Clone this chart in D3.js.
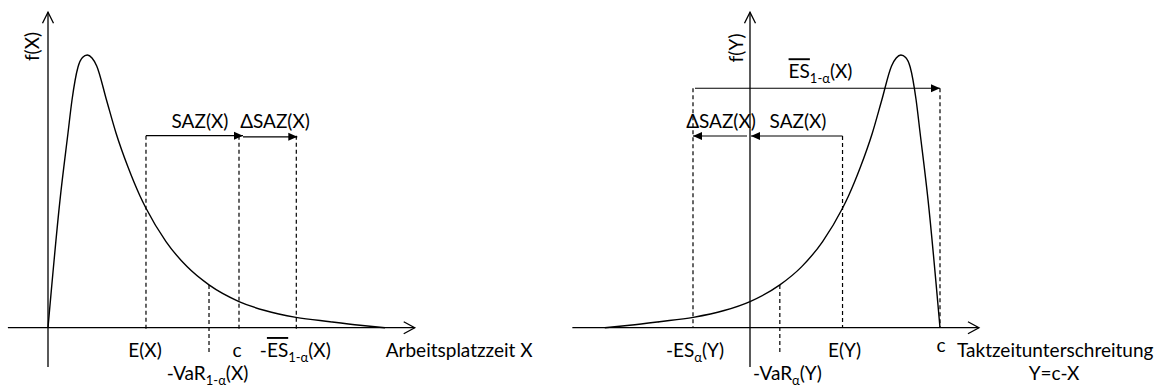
<!DOCTYPE html>
<html><head><meta charset="utf-8">
<script src="https://cdn.jsdelivr.net/npm/d3@7"></script>
<style>
html,body{margin:0;padding:0;background:#fff;}
text{font-family:Lato,"Open Sans",sans-serif;fill:#000;font-size:19px;}
</style></head><body>
<svg id="chart" width="1160" height="387"></svg>
<script>
// Density f(X) of the workplace time X (arbitrary units)
const densityX = [0, 0.628, 1.047, 1.257, 1.571, 1.806, 2.058, 2.304, 2.550, 3.063, 3.560, 4.188, 4.817, 5.131, 6.178, 7.277, 8.429, 10.0, 11.361, 12.984, 14.764, 16.335, 17.644];
const densityF = [0, 0.468, 0.714, 0.835, 0.956, 0.991, 1.0, 0.989, 0.960, 0.835, 0.714, 0.589, 0.483, 0.438, 0.316, 0.224, 0.157, 0.096, 0.063, 0.038, 0.022, 0.009, 0];
// Key values on the X scale
const markerNames = ["E", "VaR", "c", "ES"];
const markerValuesX = [5.13, 8.43, 10.0, 13.0];
const taktC = 10.0;            // c, Y = c - X
// Heights (in f units) of the annotation arrows
const arrowLevelsLeft = [0.704, 0.700];   // SAZ, ΔSAZ
const arrowLevelsRight = [0.878, 0.703];  // ES̄, SAZ/ΔSAZ
// Texts
const axisTitles = ["Arbeitsplatzzeit X", "Taktzeitunterschreitung", "Y=c-X"];
const yTitles = ["f(X)", "f(Y)"];

const M = {}; markerNames.forEach((n,i)=>M[n]=markerValuesX[i]);
const data = densityX.map((x,i)=>({x, f: densityF[i]}));
const fAt = x => { const i = d3.bisector(d=>d.x).left(data, x);
  if (i<=0) return data[0].f; if (i>=data.length) return 0;
  const a=data[i-1], b=data[i]; return a.f + (b.f-a.f)*(x-a.x)/(b.x-a.x); };

const svg = d3.select("#chart");
const defs = svg.append("defs");
defs.append("marker").attr("id","head").attr("viewBox","0 0 10 10")
  .attr("refX",10).attr("refY",5).attr("markerWidth",10).attr("markerHeight",9)
  .attr("markerUnits","userSpaceOnUse").attr("orient","auto")
  .append("path").attr("d","M0,0.5L10,5L0,9.5Z").attr("fill","#000");

const xL = d3.scaleLinear().domain([0, 10]).range([48, 239]);
const xR = d3.scaleLinear().domain([-3, 10]).range([693, 940]);
const yS = d3.scaleLinear().domain([0, 1]).range([327.7, 55]);

const g = svg.append("g").attr("fill","none").attr("stroke","#000");

function axisX(sc, a, b) {
  const y = yS(0), x0 = sc(a), x1 = sc(b);
  g.append("line").attr("x1",x0).attr("x2",x1).attr("y1",y).attr("y2",y).attr("stroke-width",1.3);
  g.append("path").attr("d",`M${x1-11},${y-6}L${x1},${y}L${x1-11},${y+6}`).attr("stroke-width",1.3);
}
function axisY(x, fa, fb) {
  const y0 = yS(fa), y1 = yS(fb);
  g.append("line").attr("x1",x).attr("x2",x).attr("y1",y0).attr("y2",y1).attr("stroke-width",1.3);
  g.append("path").attr("d",`M${x-5.5},${y1+11}L${x},${y1}L${x+5.5},${y1+11}`).attr("stroke-width",1.3);
}
function dashed(x, fa, fb) {
  g.append("line").attr("x1",x).attr("x2",x).attr("y1",yS(fa)).attr("y2",yS(fb))
    .attr("stroke-width",1.2).attr("stroke-dasharray","4,3");
}
function arrow(xa, xb, f) {
  g.append("line").attr("x1",xa).attr("x2",xb).attr("y1",yS(f)).attr("y2",yS(f))
    .attr("stroke-width",1.2).attr("marker-end","url(#head)");
}
function label(x, y, parts, anchor) {
  const t = svg.append("text").attr("x",x).attr("y",y).attr("text-anchor",anchor||"middle");
  let shift = 0;
  parts.forEach(p => {
    const s = p.sub ? 5 : 0;
    const ts = t.append("tspan").text(p.t).attr("dy", s - shift);
    if (p.sub) ts.style("font-size","13px");
    if (p.over) ts.style("text-decoration","overline");
    shift = s;
  });
  return t;
}

// ---------- Left chart ----------
axisX(xL, -2.1, 19.2);
axisY(xL(0), -0.144, 1.157);
g.append("path").datum(data).attr("stroke-width",1.4)
  .attr("d", d3.line().x(d=>xL(d.x)).y(d=>yS(d.f)).curve(d3.curveMonotoneX));
["E","c","ES"].forEach(n => dashed(xL(M[n]), arrowLevelsLeft[0], -0.015));
dashed(xL(M.VaR), fAt(M.VaR), -0.094);
arrow(xL(M.E), xL(M.c)+4, arrowLevelsLeft[0]);
arrow(xL(M.c)+4, xL(M.ES)+1, arrowLevelsLeft[1]);

const r1 = yS(0) + 29.3, r2 = yS(0) + 52.3;
label(xL(M.E)-1, r1, [{t:"E(X)"}]);
label(xL(M.c)-2, r1, [{t:"c"}]);
label(xL(M.ES)-1, r1, [{t:"-"},{t:"ES",over:true},{t:"1-α",sub:true},{t:"(X)"}]);
label(xL(M.VaR)-1.5, r2, [{t:"-VaR"},{t:"1-α",sub:true},{t:"(X)"}]);
label(xL(19.2)-29, r1, [{t:axisTitles[0]}], "start");
label(xL(M.E)+54, yS(arrowLevelsLeft[0])-8, [{t:"SAZ(X)"}]);
label(xL(M.c)+36, yS(arrowLevelsLeft[0])-8, [{t:"ΔSAZ(X)"}]);
svg.append("text").attr("transform",`translate(${xL(0)-9},46.5) rotate(-90)`)
  .attr("text-anchor","middle").text(yTitles[0]);

// ---------- Right chart (Y = c - X) ----------
const dataR = data.map(d=>({y: taktC - d.x, f: d.f})).reverse();
const Y = n => taktC - M[n];
const xc = xR(taktC);
axisX(xR, -9.35, 12.05);
axisY(xR(0), -0.144, 1.157);
g.append("path").datum(dataR).attr("stroke-width",1.4)
  .attr("d", d3.line().x(d=>xR(d.y)).y(d=>yS(d.f)).curve(d3.curveMonotoneX));
dashed(xR(Y("ES")), arrowLevelsRight[0], 0);
dashed(xc, arrowLevelsRight[0], 0);
dashed(xR(Y("E")), arrowLevelsRight[1], 0);
dashed(xR(Y("VaR")), fAt(M.VaR), -0.094);
arrow(xR(Y("ES"))+2, xc, arrowLevelsRight[0]);
arrow(xR(Y("E")), xR(0)+1, arrowLevelsRight[1]);
arrow(xR(0)-3, xR(Y("ES")), arrowLevelsRight[1]);

label(xR(Y("ES"))+2, r1, [{t:"-ES"},{t:"α",sub:true},{t:"(Y)"}]);
label(xR(Y("E"))+2, r1, [{t:"E(Y)"}]);
label(xc+1, r1-5, [{t:"c"}]);
label(xR(0)+3, r2, [{t:"-VaR"},{t:"α",sub:true},{t:"(Y)"}], "start");
label(xc+17, r1, [{t:axisTitles[1]}], "start");
label(xc+114, r2, [{t:axisTitles[2]}]);
label((xR(Y("ES"))+xc)/2+4, yS(arrowLevelsRight[0])-10, [{t:"ES",over:true},{t:"1-α",sub:true},{t:"(X)"}]);
label(xR(0)-29, yS(arrowLevelsRight[1])-8, [{t:"ΔSAZ(X)"}]);
label(xR(0)+48, yS(arrowLevelsRight[1])-8, [{t:"SAZ(X)"}]);
svg.append("text").attr("transform",`translate(${xR(0)-7},48) rotate(-90)`)
  .attr("text-anchor","middle").text(yTitles[1]);
</script>
</body></html>
